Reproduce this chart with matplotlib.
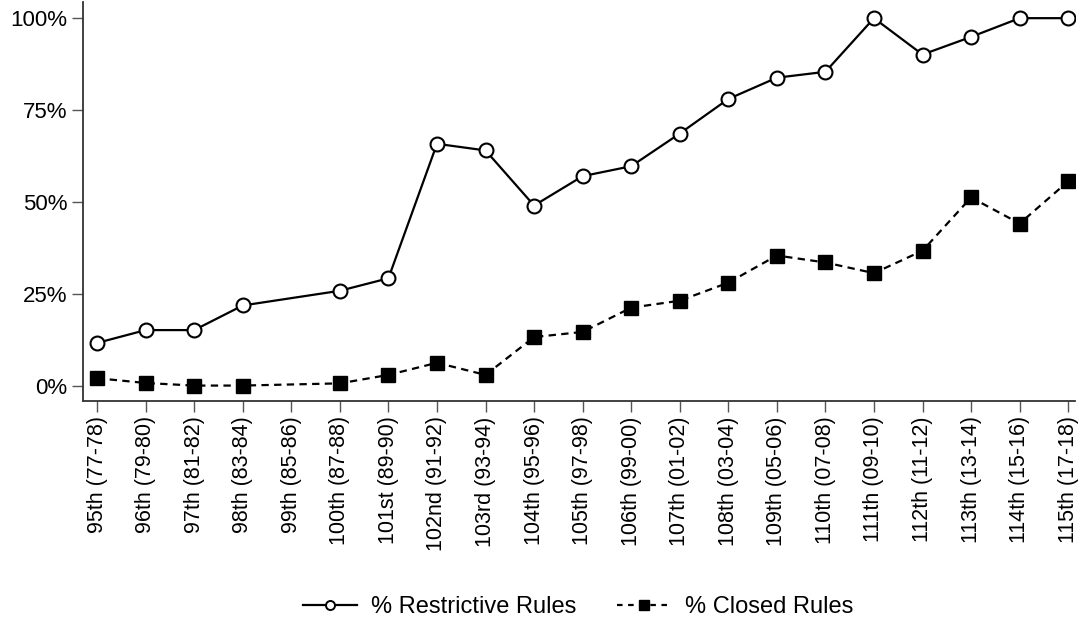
import numpy as np
import matplotlib
matplotlib.use("Agg")
import matplotlib.pyplot as plt
from matplotlib.lines import Line2D

plt.rcParams['font.family'] = ['Liberation Sans', 'DejaVu Sans']

congresses = ["95th (77-78)", "96th (79-80)", "97th (81-82)", "98th (83-84)", "99th (85-86)",
              "100th (87-88)", "101st (89-90)", "102nd (91-92)", "103rd (93-94)", "104th (95-96)",
              "105th (97-98)", "106th (99-00)", "107th (01-02)", "108th (03-04)", "109th (05-06)",
              "110th (07-08)", "111th (09-10)", "112th (11-12)", "113th (13-14)", "114th (15-16)",
              "115th (17-18)"]
restrictive = [11.6, 15.1, 15.1, 21.8, np.nan, 25.8, 29.2, 65.8, 64.0, 49.0,
               57.0, 59.7, 68.6, 78.0, 83.8, 85.4, 100.0, 90.1, 94.9, 100.0, 100.0]
closed = [2.0, 0.7, 0.0, 0.0, np.nan, 0.6, 2.9, 6.2, 2.9, 13.2,
          14.6, 21.2, 23.1, 28.0, 35.4, 33.5, 30.6, 36.7, 51.2, 44.1, 55.6]
yticks = [0, 25, 50, 75, 100]
ytick_labels = ["0%", "25%", "50%", "75%", "100%"]

fig = plt.figure(figsize=(10.8, 6.22), dpi=100)
ax = fig.add_axes([83/1080, 1 - 401/622, (1075 - 83)/1080, 399/622])

x = np.arange(len(congresses))
r = np.array(restrictive, dtype=float)
c = np.array(closed, dtype=float)
mr = ~np.isnan(r)
mc = ~np.isnan(c)

ax.plot(x[mr], r[mr], color='black', lw=1.6, marker='o', markersize=10,
        markerfacecolor='white', markeredgecolor='black', markeredgewidth=1.5, zorder=3)
ax.plot(x[mc], c[mc], color='black', lw=1.6, linestyle=(0, (3.3, 2.4)), marker='s', markersize=10,
        markerfacecolor='black', markeredgecolor='black', zorder=3)

ax.set_xlim(-0.29, 20.14)
ax.set_ylim(-4.2, 104.4)
ax.set_yticks(yticks)
ax.set_yticklabels(ytick_labels, fontsize=16)
ax.set_xticks(x)
ax.set_xticklabels(congresses, rotation=90, fontsize=15.5)

for s in ['top', 'right']:
    ax.spines[s].set_visible(False)
for s in ['left', 'bottom']:
    ax.spines[s].set_linewidth(1.3)
    ax.spines[s].set_color('#333333')
ax.tick_params(axis='both', length=8, width=1.0, color='#555555', pad=3)

handles = [
    Line2D([], [], color='black', lw=1.6, marker='o', markersize=6.5, markerfacecolor='white',
           markeredgecolor='black', markeredgewidth=1.4),
    Line2D([], [], color='black', lw=1.6, linestyle=(0, (2.5, 2.5)), marker='s', markersize=7.5,
           markerfacecolor='black'),
]
fig.legend(handles, ["% Restrictive Rules", "% Closed Rules"], loc='center',
           bbox_to_anchor=(578/1080, 1 - 607/622), ncol=2, frameon=False, fontsize=17,
           handlelength=2.3, columnspacing=1.7, handletextpad=0.6, borderpad=0, borderaxespad=0)

fig.savefig("out.png", dpi=100)
